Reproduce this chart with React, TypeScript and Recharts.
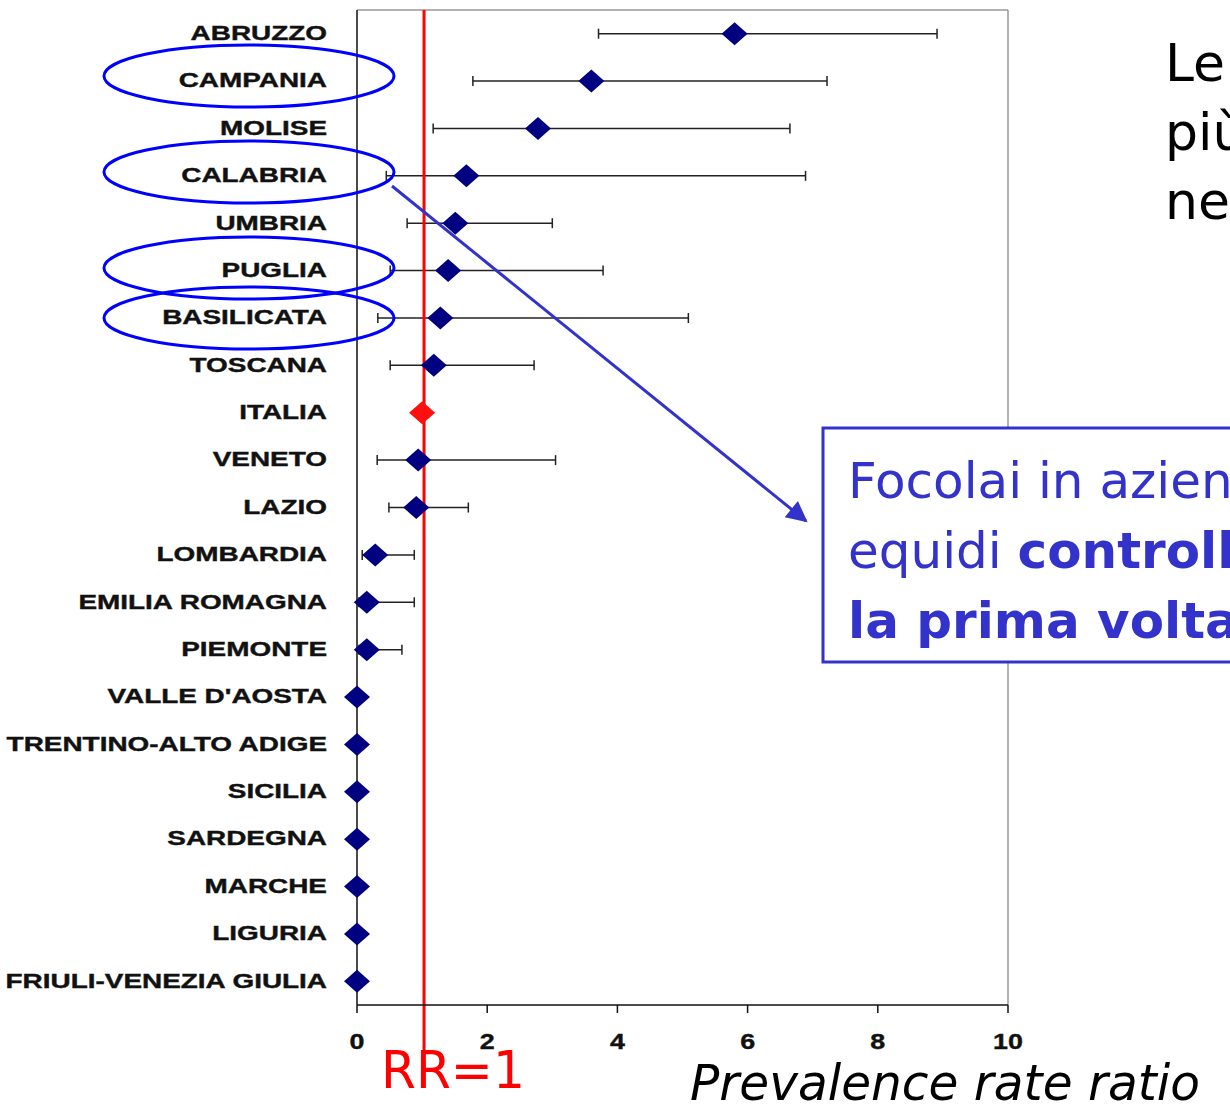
import React from "react"
import { ComposedChart, Scatter, XAxis, YAxis, ErrorBar, ReferenceLine } from "recharts"

// regions from top to bottom
const regions = [
  "ABRUZZO",
  "CAMPANIA",
  "MOLISE",
  "CALABRIA",
  "UMBRIA",
  "PUGLIA",
  "BASILICATA",
  "TOSCANA",
  "ITALIA",
  "VENETO",
  "LAZIO",
  "LOMBARDIA",
  "EMILIA ROMAGNA",
  "PIEMONTE",
  "VALLE D'AOSTA",
  "TRENTINO-ALTO ADIGE",
  "SICILIA",
  "SARDEGNA",
  "MARCHE",
  "LIGURIA",
  "FRIULI-VENEZIA GIULIA",
]

const rateRatio = [5.8, 3.6, 2.78, 1.68, 1.51, 1.4, 1.28, 1.18, 1.0, 0.94, 0.91, 0.28, 0.15, 0.15, 0, 0, 0, 0, 0, 0, 0]
const lowerCI = [3.71, 1.78, 1.17, 0.45, 0.77, 0.51, 0.32, 0.51, 1.0, 0.31, 0.49, 0.08, 0.03, 0.03, 0, 0, 0, 0, 0, 0, 0]
const upperCI = [8.91, 7.22, 6.65, 6.89, 3.0, 3.78, 5.09, 2.72, 1.0, 3.05, 1.71, 0.88, 0.88, 0.69, 0, 0, 0, 0, 0, 0, 0]

const xTicks = [0, 2, 4, 6, 8, 10]
const rrLine = 1.03
const reference = "ITALIA"

const rows = regions.map((name, i) => ({
  name,
  idx: i,
  rr: rateRatio[i],
  err: [rateRatio[i] - lowerCI[i], upperCI[i] - rateRatio[i]],
}))

const labelIdx = regions.map((_, i) => i)
const bandTicks = [...regions.map((_, i) => i - 0.5), regions.length - 0.5]

const Diamond = (props: any) => {
  const { cx, cy, payload } = props
  if (cx == null || cy == null) return null
  const w = 13
  const h = 11.5
  const fill = payload && payload.name === reference ? "#ff1010" : "#000080"
  return <polygon points={`${cx - w},${cy} ${cx},${cy - h} ${cx + w},${cy} ${cx},${cy + h}`} fill={fill} />
}

const RegionTick = (props: any) => {
  const { x, y, payload } = props
  return (
    <text
      transform={`translate(${x},${y}) scale(1.33,1)`}
      textAnchor="end"
      dy="0.3em"
      fontFamily="'Liberation Sans', Arial, sans-serif"
      fontWeight="bold"
      fontSize={21}
      fill="#111"
      stroke="#111"
      strokeWidth={0.4}
    >
      {regions[payload.value]}
    </text>
  )
}

const ValueTick = (props: any) => {
  const { x, y, payload } = props
  return (
    <text
      transform={`translate(${x},${y}) scale(1.22,1)`}
      textAnchor="middle"
      dy="0.7em"
      fontFamily="'Liberation Sans', Arial, sans-serif"
      fontWeight="bold"
      fontSize={22}
      fill="#111"
      stroke="#111"
      strokeWidth={0.4}
    >
      {payload.value}
    </text>
  )
}

const blue = "#3333cc"

export default function App() {
  return (
    <div style={{ position: "absolute", left: 0, top: 0, width: 1230, height: 1108, background: "#fff", overflow: "hidden" }}>
      <ComposedChart width={1230} height={1108} data={rows} margin={{ top: 10, right: 222, bottom: 0, left: 0 }}>
        <XAxis
          type="number"
          dataKey="rr"
          domain={[0, 10]}
          ticks={xTicks}
          height={103}
          tickSize={8}
          tickMargin={21}
          stroke="#111"
          strokeWidth={1.5}
          tick={<ValueTick />}
        />
        <YAxis
          yAxisId="bands"
          type="number"
          dataKey="idx"
          domain={[-0.5, regions.length - 0.5]}
          reversed
          ticks={bandTicks}
          tick={false}
          tickSize={10}
          width={10}
          stroke="#111"
          strokeWidth={1.5}
        />
        <YAxis
          yAxisId="labels"
          type="number"
          dataKey="idx"
          domain={[-0.5, regions.length - 0.5]}
          reversed
          ticks={labelIdx}
          interval={0}
          tick={<RegionTick />}
          tickLine={false}
          axisLine={false}
          tickSize={0}
          tickMargin={20}
          width={347}
        />
        <ReferenceLine yAxisId="bands" y={-0.5} stroke="#999" strokeWidth={1.5} />
        <ReferenceLine yAxisId="bands" x={10} stroke="#999" strokeWidth={1.5} />
        <Scatter yAxisId="bands" dataKey="idx" shape={<Diamond />} isAnimationActive={false}>
          <ErrorBar dataKey="err" direction="x" width={5} stroke="#222" strokeWidth={1.5} />
        </Scatter>
        <ReferenceLine
          yAxisId="bands"
          segment={[
            { x: rrLine, y: -0.5 },
            { x: rrLine, y: regions.length + 0.5 },
          ]}
          ifOverflow="visible"
          stroke="#ff0000"
          strokeWidth={3}
        />
      </ComposedChart>

      <svg
        width={1230}
        height={1108}
        style={{ position: "absolute", left: 0, top: 0, pointerEvents: "none" }}
      >
        <defs>
          <marker id="head" viewBox="0 0 10 10" refX="9" refY="5" markerWidth="8" markerHeight="7" orient="auto" markerUnits="strokeWidth">
            <path d="M0,0 L10,5 L0,10 z" fill={blue} />
          </marker>
        </defs>
        {[76, 172, 268, 318].map((cy) => (
          <ellipse key={cy} cx={249} cy={cy} rx={145} ry={31} fill="none" stroke="#0000ff" strokeWidth={3} />
        ))}
        <line x1={392} y1={186} x2={806} y2={521} stroke={blue} strokeWidth={3} markerEnd="url(#head)" />

        <rect x={823} y={428} width={480} height={234} fill="#fff" stroke={blue} strokeWidth={3} />
        <g fontFamily="'DejaVu Sans', Verdana, sans-serif" fontSize={50} fill={blue}>
          <text x={848} y={498}>Focolai in aziende</text>
          <text x={848} y={568}>
            equidi <tspan fontWeight="bold">controlli</tspan>
          </text>
          <text x={848} y={638} fontWeight="bold">la prima volta</text>
        </g>

        <g fontFamily="'DejaVu Sans', Verdana, sans-serif" fontSize={52} fill="#000">
          <text x={1165} y={81}>Le</text>
          <text x={1165} y={150}>più</text>
          <text x={1165} y={219}>ne</text>
        </g>

        <text x={381} y={1088} fontFamily="'DejaVu Sans', Verdana, sans-serif" fontSize={52} fill="#ff0000" textLength={144} lengthAdjust="spacingAndGlyphs">
          RR=1
        </text>
        <text x={690} y={1100} fontFamily="'DejaVu Sans', Verdana, sans-serif" fontStyle="italic" fontSize={50} fill="#000" textLength={510} lengthAdjust="spacingAndGlyphs">
          Prevalence rate ratio
        </text>
      </svg>
    </div>
  )
}
